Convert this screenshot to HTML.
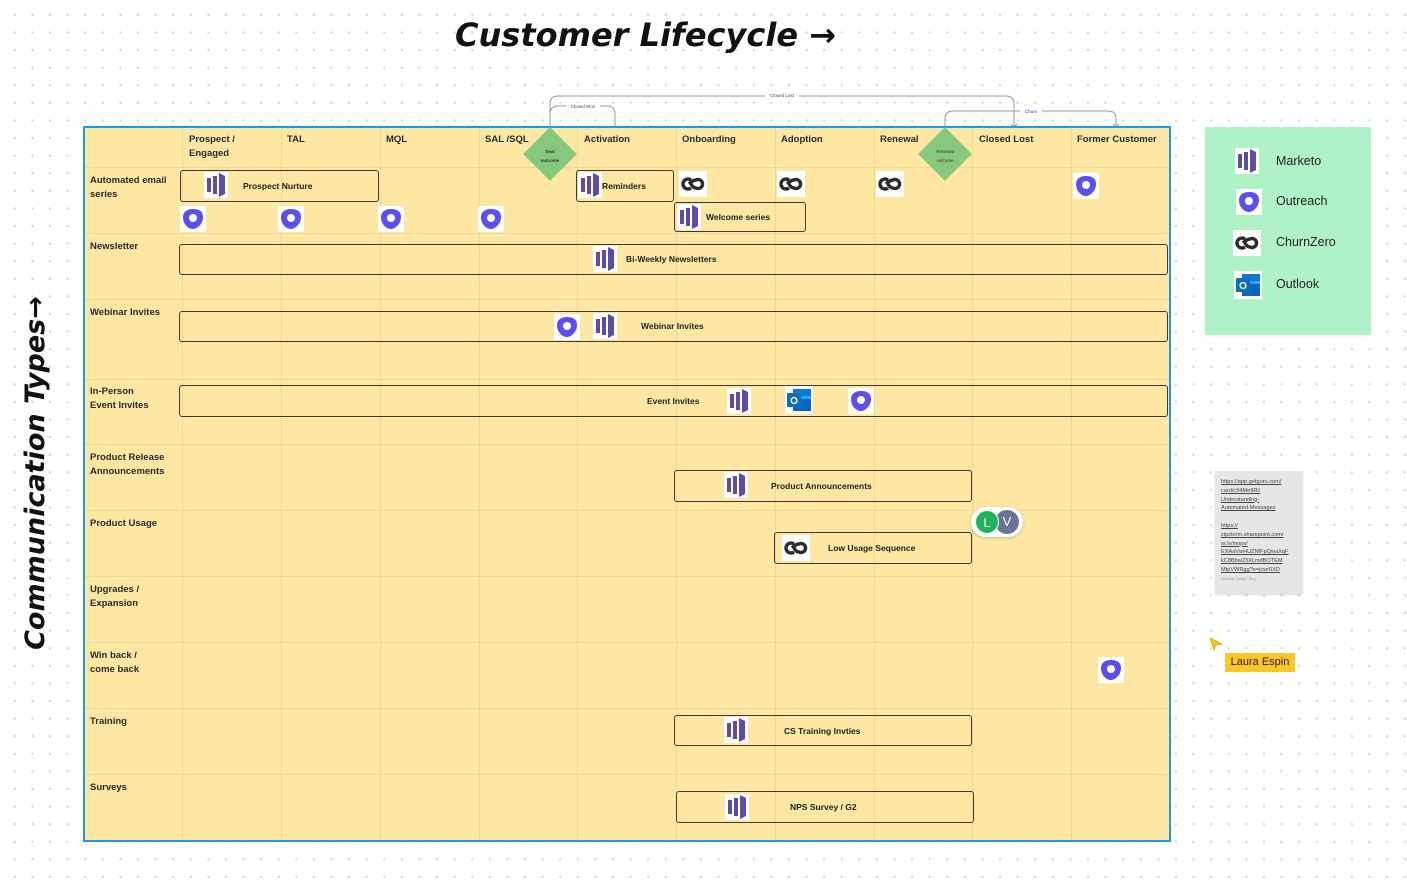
<!DOCTYPE html>
<html><head><meta charset="utf-8">
<style>
*{margin:0;padding:0;box-sizing:border-box}
body{width:1407px;height:884px;position:relative;overflow:hidden;background:#fff;
background-image:radial-gradient(circle,#cfcfcf 0.8px,transparent 1.2px);background-size:17.6px 17.6px;background-position:6px 6px;
font-family:"Liberation Sans",sans-serif;color:#222}
.a{position:absolute}
.tbl{left:83px;top:126px;width:1088px;height:716px;background:#fde7a3;border:2px solid #1a9bf0}
.vl{position:absolute;top:0;bottom:0;width:1px;background:#efd795}
.hl{position:absolute;left:0;right:0;height:1px;background:#efd795}
.h{font-size:9.5px;font-weight:bold;color:#2a2a2a;line-height:14px}
.box{position:absolute;border:1.5px solid #3a3a3a;border-radius:3px}
.bt{position:absolute;font-size:8.5px;font-weight:bold;color:#222}
</style></head><body>

<div class="a" style="left:455px;top:16px;font-family:'DejaVu Sans',sans-serif;font-style:italic;font-weight:bold;font-size:32px;color:#111;white-space:nowrap">Customer Lifecycle →</div>
<div class="a" style="left:-164px;top:456px;width:400px;height:34px;transform:rotate(-90deg);font-family:'DejaVu Sans',sans-serif;font-style:italic;font-weight:bold;font-size:27px;color:#111;text-align:center;white-space:nowrap;line-height:34px">Communication Types→</div>

<svg class="a" style="left:0;top:0" width="1407" height="140">
<g fill="none" stroke="#999" stroke-width="1">
<path d="M550 128 V104 q0-8 8-8 H1006 q8 0 8 8 V127"/>
<path d="M550 128 V114 q0-8 8-8 H607 q8 0 8 8 V130"/>
<path d="M945 128 V119 q0-8 8-8 H1108 q8 0 8 8 V127"/>
<path d="M612 127 l3 3 l3-3 M1011 124 l3 3 l3-3 M1113 124 l3 3 l3-3"/>
</g>
<g font-family="Liberation Sans" font-size="4.5" fill="#444" text-anchor="middle">
<rect x="765" y="92" width="34" height="7" fill="#fff"/><text x="782" y="97">Closed Lost</text>
<rect x="566" y="103" width="34" height="7" fill="#fff"/><text x="583" y="108">Closed Won</text>
<rect x="1020" y="108" width="22" height="7" fill="#fff"/><text x="1031" y="113">Churn</text>
</g>
</svg>

<div class="a tbl">
<div class="vl" style="left:97px"></div><div class="vl" style="left:196px"></div><div class="vl" style="left:295px"></div><div class="vl" style="left:394px"></div><div class="vl" style="left:492px"></div><div class="vl" style="left:591px"></div><div class="vl" style="left:690px"></div><div class="vl" style="left:789px"></div><div class="vl" style="left:887px"></div><div class="vl" style="left:986px"></div>
<div class="hl" style="top:39px"></div><div class="hl" style="top:105px"></div><div class="hl" style="top:171px"></div><div class="hl" style="top:251px"></div><div class="hl" style="top:316px"></div><div class="hl" style="top:382px"></div><div class="hl" style="top:448px"></div><div class="hl" style="top:514px"></div><div class="hl" style="top:580px"></div><div class="hl" style="top:646px"></div>
</div>

<div class="a h" style="left:189px;top:133px">Prospect /<br>Engaged</div>
<div class="a h" style="left:287px;top:133px">TAL</div>
<div class="a h" style="left:386px;top:133px">MQL</div>
<div class="a h" style="left:485px;top:133px">SAL /SQL</div>
<div class="a h" style="left:584px;top:133px">Activation</div>
<div class="a h" style="left:682px;top:133px">Onboarding</div>
<div class="a h" style="left:781px;top:133px">Adoption</div>
<div class="a h" style="left:880px;top:133px">Renewal</div>
<div class="a h" style="left:979px;top:133px">Closed Lost</div>
<div class="a h" style="left:1077px;top:133px">Former Customer</div>

<div class="a h" style="left:90px;top:174px">Automated email<br>series</div>
<div class="a h" style="left:90px;top:240px">Newsletter</div>
<div class="a h" style="left:90px;top:306px">Webinar Invites</div>
<div class="a h" style="left:90px;top:385px">In-Person<br>Event Invites</div>
<div class="a h" style="left:90px;top:451px">Product Release<br>Announcements</div>
<div class="a h" style="left:90px;top:517px">Product Usage</div>
<div class="a h" style="left:90px;top:583px">Upgrades /<br>Expansion</div>
<div class="a h" style="left:90px;top:649px">Win back /<br>come back</div>
<div class="a h" style="left:90px;top:715px">Training</div>
<div class="a h" style="left:90px;top:781px">Surveys</div>

<div class="a" style="left:531px;top:135px;width:38px;height:38px;background:#86c97e;transform:rotate(45deg)"></div>
<div class="a" style="left:530px;top:147px;width:40px;text-align:center;font-size:4.5px;line-height:9px;font-weight:bold;color:#333">Deal<br>outcome</div>
<div class="a" style="left:926px;top:135px;width:38px;height:38px;background:#86c97e;transform:rotate(45deg)"></div>
<div class="a" style="left:925px;top:147px;width:40px;text-align:center;font-size:4.5px;line-height:9px;color:#333">Renewal<br>outcome</div>

<div class="box" style="left:180px;top:170px;width:199px;height:32px"></div><div class="bt" style="left:243px;top:181px">Prospect Nurture</div>
<div class="box" style="left:576px;top:170px;width:98px;height:32px"></div><div class="bt" style="left:602px;top:181px">Reminders</div>
<div class="box" style="left:674px;top:202px;width:132px;height:30px"></div><div class="bt" style="left:706px;top:212px">Welcome series</div>
<div class="box" style="left:179px;top:244px;width:989px;height:31px"></div><div class="bt" style="left:626px;top:254px">Bi-Weekly Newsletters</div>
<div class="box" style="left:179px;top:311px;width:989px;height:31px"></div><div class="bt" style="left:641px;top:321px">Webinar Invites</div>
<div class="box" style="left:179px;top:385px;width:989px;height:32px"></div><div class="bt" style="left:647px;top:396px">Event Invites</div>
<div class="box" style="left:674px;top:470px;width:298px;height:32px"></div><div class="bt" style="left:771px;top:481px">Product Announcements</div>
<div class="box" style="left:774px;top:532px;width:198px;height:32px"></div><div class="bt" style="left:828px;top:543px">Low Usage Sequence</div>
<div class="box" style="left:674px;top:715px;width:298px;height:31px"></div><div class="bt" style="left:784px;top:726px">CS Training Invties</div>
<div class="box" style="left:676px;top:791px;width:298px;height:32px"></div><div class="bt" style="left:790px;top:802px">NPS Survey / G2</div>

<div class="a" style="left:1205px;top:127px;width:166px;height:208px;background:#b0f2c8;border-radius:2px"></div>
<div class="a" style="left:1276px;top:154px;font-size:12.5px;color:#222">Marketo</div>
<div class="a" style="left:1276px;top:194px;font-size:12.5px;color:#222">Outreach</div>
<div class="a" style="left:1276px;top:235px;font-size:12.5px;color:#222">ChurnZero</div>
<div class="a" style="left:1276px;top:277px;font-size:12.5px;color:#222">Outlook</div>

<svg width="0" height="0" style="position:absolute"><defs>
<g id="mk"><rect width="24" height="26" fill="#fff"/><rect x="3" y="6" width="4" height="14" fill="#5c4ca6"/><rect x="9" y="4" width="4" height="18" fill="#5c4ca6"/><path d="M15 1 L21 4 V22 L15 25Z" fill="#5c4ca6"/></g>
<g id="or"><rect width="26" height="26" fill="#fff"/><path d="M13 3 C20 3 23 6 23 11 C23 18 17 23 13 23 C8 23 3 18 3 11 C3 6 7 3 13 3Z" fill="#5a4ff5"/><circle cx="13" cy="12" r="4" fill="#fff"/></g>
<g id="cz"><rect width="28" height="26" fill="#fff"/><path d="M12 9 A5 5 0 1 0 12 17 M10 13 Q14 9 17 9 A4.5 4.5 0 1 1 17 17 Q14 17 12 13" fill="none" stroke="#2b2b2b" stroke-width="3.4"/></g>
<g id="ol"><rect width="28" height="28" fill="#fff"/><rect x="8" y="3" width="18" height="20" fill="#28a8ea"/><rect x="8" y="3" width="18" height="7" fill="#0f78d4"/><path d="M8 13 L26 13 V25 H8Z" fill="#0a64c1"/><rect x="2" y="7" width="14" height="14" rx="1" fill="#0f6cbd"/><text x="9" y="18" font-size="10" fill="#fff" font-family="Liberation Sans" font-weight="bold" text-anchor="middle">O</text></g>
</defs></svg>

<svg class="a" style="left:0;top:0" width="1407" height="884">
<use href="#mk" x="204" y="172"/><use href="#mk" x="578" y="172"/><use href="#mk" x="677" y="204"/>
<use href="#mk" x="593" y="246"/><use href="#mk" x="593" y="313"/><use href="#mk" x="727" y="388"/>
<use href="#mk" x="724" y="472"/><use href="#mk" x="724" y="717"/><use href="#mk" x="725" y="794"/>
<use href="#or" x="180" y="206"/><use href="#or" x="278" y="206"/><use href="#or" x="378" y="206"/><use href="#or" x="478" y="206"/>
<use href="#or" x="1073" y="173"/><use href="#or" x="554" y="314"/><use href="#or" x="848" y="388"/><use href="#or" x="1098" y="657"/>
<use href="#cz" x="679" y="171"/><use href="#cz" x="777" y="171"/><use href="#cz" x="876" y="171"/><use href="#cz" x="782" y="535"/>
<use href="#ol" x="785" y="386"/>
<use href="#mk" x="1235" y="148"/><use href="#or" x="1236" y="189"/><use href="#cz" x="1233" y="230"/><use href="#ol" x="1234" y="271"/>
</svg>

<div class="a" style="left:971px;top:507px;width:52px;height:30px;background:#fff;border-radius:15px;box-shadow:0 1px 3px rgba(0,0,0,.2)"></div>
<div class="a" style="left:995px;top:510px;width:24px;height:24px;border-radius:12px;background:#687595;color:#fff;font-size:13px;text-align:center;line-height:24px">V</div>
<div class="a" style="left:975px;top:510px;width:24px;height:24px;border-radius:12px;background:#1db45a;color:#fff;font-size:13px;text-align:center;line-height:24px;border:1.5px solid #fff">L</div>

<div class="a" style="left:1215px;top:471px;width:88px;height:123px;background:#e6e6e6;box-shadow:0 1px 2px rgba(0,0,0,.15);padding:7px 6px;font-size:5.6px;line-height:8.8px;color:#444">
<span style="text-decoration:underline">https://app.getguru.com/<br>card/c94Me9Ri/<br>Understanding-<br>Automated-Messages</span><br><br>
<span style="text-decoration:underline">https://<br>zipstorm.sharepoint.com/<br>w:/s/mops/<br>EXAaVwHUZNfFpQwaXqF<br>kC8Bhw23XLmdBOTEM<br>MtpVWRgg?e=jcwr0XD</span><br>
<span style="font-size:4px;color:#999">Victoria Jabber Bey</span></div>

<svg class="a" style="left:1208px;top:636px" width="16" height="16"><path d="M2 2 L14 8 L8 9 L6 14Z" fill="#f4c21c" stroke="#e0a800" stroke-width=".8"/></svg>
<div class="a" style="left:1225px;top:653px;width:70px;height:19px;background:#ffc726;font-size:11px;line-height:19px;text-align:center;color:#222">Laura Espin</div>
</body></html>
